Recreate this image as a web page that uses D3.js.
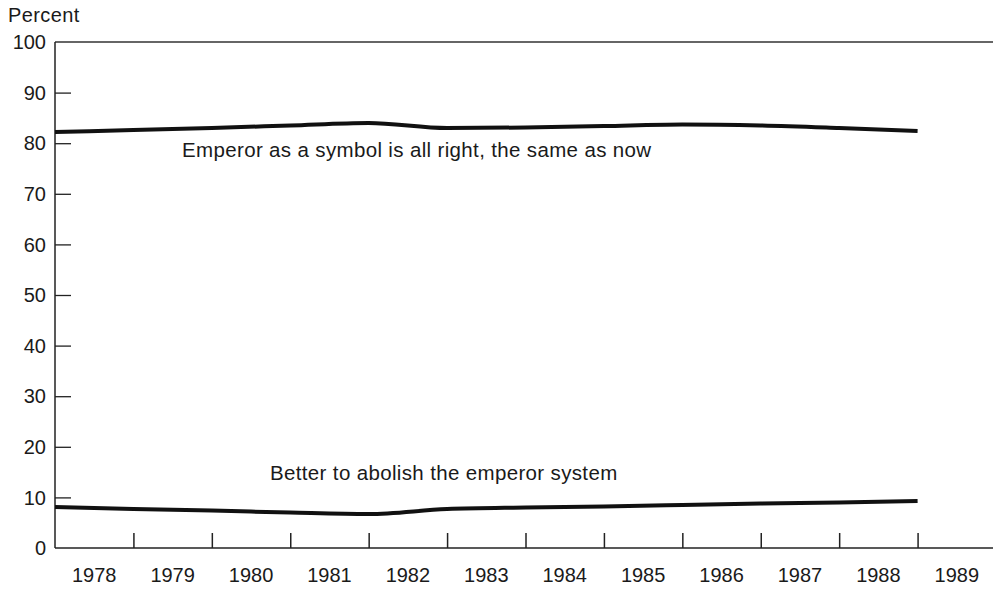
<!DOCTYPE html>
<html><head><meta charset="utf-8">
<script src="https://cdn.jsdelivr.net/npm/d3@7/dist/d3.min.js"></script>
<style>body{margin:0;background:#fff;} text{font-family:"Liberation Sans",Arial,sans-serif;fill:#1a1a1a;}</style>
</head><body><svg id="c" width="993" height="590"></svg>
<script>
const years = [1978,1979,1980,1981,1982,1983,1984,1985,1986,1987,1988,1989];
const symbolValues = [82.2,82.6,83.0,83.5,84.0,83.0,83.1,83.4,83.7,83.5,83.0,82.4];
const abolishValues = [8.1,7.7,7.4,7.0,6.7,7.7,8.0,8.2,8.5,8.8,9.0,9.3];
const yTicks = [0,10,20,30,40,50,60,70,80,90,100];
const yearLabels = [1978,1979,1980,1981,1982,1983,1984,1985,1986,1987,1988,1989];
const seriesLabels = ["Emperor as a symbol is all right, the same as now","Better to abolish the emperor system"];

const svg = d3.select("#c");
const x = d3.scaleLinear().domain([1978,1990]).range([55,996]);
const y = d3.scaleLinear().domain([0,100]).range([548,42]);

svg.append("line").attr("x1",55).attr("x2",993).attr("y1",y(100)).attr("y2",y(100)).attr("stroke","#333").attr("stroke-width",1.3);
const ya = svg.append("g").attr("transform","translate(55,0)")
  .call(d3.axisRight(y).tickValues(yTicks.filter(d=>d>0&&d<100)).tickSize(16).tickFormat(""));
ya.select(".domain").remove();
ya.selectAll("line").attr("stroke","#222").attr("stroke-width",1.3);
svg.append("line").attr("x1",55).attr("x2",55).attr("y1",y(100)).attr("y2",y(0)).attr("stroke","#222").attr("stroke-width",1.5);
svg.selectAll("text.yl").data(yTicks).enter().append("text").attr("class","yl")
  .attr("x",46).attr("y",d=>y(d)).attr("dy","0.36em").attr("text-anchor","end").attr("font-size",20).text(d=>d);
svg.append("text").attr("x",8).attr("y",22).attr("font-size",20).attr("letter-spacing",0.4).text("Percent");

svg.append("line").attr("x1",55).attr("x2",993).attr("y1",y(0)).attr("y2",y(0)).attr("stroke","#222").attr("stroke-width",1.5);
const xa = svg.append("g").attr("transform",`translate(0,${y(0)})`)
  .call(d3.axisTop(x).tickValues(d3.range(1979,1990)).tickSize(15).tickFormat(""));
xa.select(".domain").remove();
xa.selectAll("line").attr("stroke","#222").attr("stroke-width",1.5);
svg.selectAll("text.xl").data(yearLabels).enter().append("text").attr("class","xl")
  .attr("x",d=>x(d+0.5)).attr("y",582).attr("text-anchor","middle").attr("font-size",20).text(d=>d);

const line = d3.line().x(d=>x(d[0])).y(d=>y(d[1])).curve(d3.curveMonotoneX);
[symbolValues,abolishValues].forEach(v=>{
  svg.append("path").datum(years.map((yr,i)=>[yr,v[i]])).attr("d",line)
    .attr("fill","none").attr("stroke","#111").attr("stroke-width",4);
});
svg.append("text").attr("x",182).attr("y",157).attr("font-size",20.5).attr("letter-spacing",0.35).text(seriesLabels[0]);
svg.append("text").attr("x",270).attr("y",480).attr("font-size",20.5).attr("letter-spacing",0.35).text(seriesLabels[1]);
</script></body></html>
